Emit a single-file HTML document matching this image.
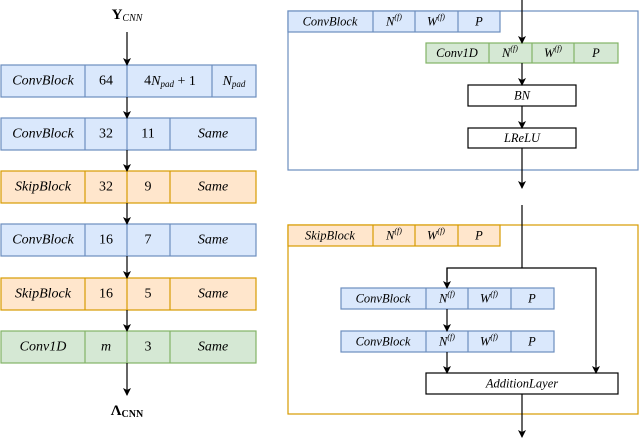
<!DOCTYPE html>
<html><head><meta charset="utf-8"><style>
html,body{margin:0;padding:0;background:#fff}
svg{display:block}
svg text{font-family:"Liberation Serif","DejaVu Serif",serif;font-size:14px;text-anchor:middle;dominant-baseline:central;fill:#000}
svg .i{font-style:italic}
svg .s{font-size:12.5px}
</style></head><body>
<svg width="640" height="438" viewBox="0 0 640 438">
<defs><marker id="a" markerWidth="8" markerHeight="8" refX="7" refY="4" orient="auto" markerUnits="userSpaceOnUse"><path d="M0,0 L8,4 L0,8 L2,4 z" fill="#000"/></marker></defs>
<g stroke-width="1.2">
<g fill="#dae8fc" stroke="#6c8ebf">
<rect x="1" y="65" width="255" height="32"/><line x1="85" y1="65" x2="85" y2="97"/><line x1="127" y1="65" x2="127" y2="97"/><line x1="212" y1="65" x2="212" y2="97"/>
<rect x="1" y="118" width="255" height="32"/><line x1="85" y1="118" x2="85" y2="150"/><line x1="127" y1="118" x2="127" y2="150"/><line x1="170" y1="118" x2="170" y2="150"/>
<rect x="1" y="224" width="255" height="32"/><line x1="85" y1="224" x2="85" y2="256"/><line x1="127" y1="224" x2="127" y2="256"/><line x1="170" y1="224" x2="170" y2="256"/>
</g>
<g fill="#ffe6cc" stroke="#d79b00">
<rect x="1" y="171" width="255" height="32"/><line x1="85" y1="171" x2="85" y2="203"/><line x1="127" y1="171" x2="127" y2="203"/><line x1="170" y1="171" x2="170" y2="203"/>
<rect x="1" y="278" width="255" height="32"/><line x1="85" y1="278" x2="85" y2="310"/><line x1="127" y1="278" x2="127" y2="310"/><line x1="170" y1="278" x2="170" y2="310"/>
</g>
<g fill="#d5e8d4" stroke="#82b366">
<rect x="1" y="331" width="255" height="32"/><line x1="85" y1="331" x2="85" y2="363"/><line x1="127" y1="331" x2="127" y2="363"/><line x1="170" y1="331" x2="170" y2="363"/>
</g>
<g stroke="#000" fill="none">
<line x1="127" y1="32" x2="127" y2="65" marker-end="url(#a)"/>
<line x1="127" y1="97" x2="127" y2="118" marker-end="url(#a)"/>
<line x1="127" y1="150" x2="127" y2="171" marker-end="url(#a)"/>
<line x1="127" y1="203" x2="127" y2="224" marker-end="url(#a)"/>
<line x1="127" y1="256" x2="127" y2="278" marker-end="url(#a)"/>
<line x1="127" y1="310" x2="127" y2="331" marker-end="url(#a)"/>
<line x1="127" y1="363" x2="127" y2="395" marker-end="url(#a)"/>
</g>
<rect x="288" y="11" width="350" height="159" fill="none" stroke="#6c8ebf"/>
<g fill="#dae8fc" stroke="#6c8ebf">
<rect x="288" y="11" width="212" height="21"/><line x1="373" y1="11" x2="373" y2="32"/><line x1="415" y1="11" x2="415" y2="32"/><line x1="458" y1="11" x2="458" y2="32"/>
</g>
<g fill="#d5e8d4" stroke="#82b366">
<rect x="426" y="43" width="192" height="20"/><line x1="489" y1="43" x2="489" y2="63"/><line x1="532" y1="43" x2="532" y2="63"/><line x1="574" y1="43" x2="574" y2="63"/>
</g>
<rect x="468" y="85" width="108" height="21" fill="#fff" stroke="#000"/>
<rect x="468" y="128" width="108" height="20" fill="#fff" stroke="#000"/>
<g stroke="#000" fill="none">
<line x1="522" y1="0" x2="522" y2="43" marker-end="url(#a)"/>
<line x1="522" y1="63" x2="522" y2="85" marker-end="url(#a)"/>
<line x1="522" y1="106" x2="522" y2="128" marker-end="url(#a)"/>
<line x1="522" y1="148" x2="522" y2="188" marker-end="url(#a)"/>
</g>
<rect x="288" y="225" width="350" height="189" fill="none" stroke="#d79b00"/>
<g fill="#ffe6cc" stroke="#d79b00">
<rect x="288" y="225" width="212" height="21"/><line x1="373" y1="225" x2="373" y2="246"/><line x1="415" y1="225" x2="415" y2="246"/><line x1="458" y1="225" x2="458" y2="246"/>
</g>
<g fill="#dae8fc" stroke="#6c8ebf">
<rect x="341" y="288" width="213" height="21"/><line x1="426" y1="288" x2="426" y2="309"/><line x1="468" y1="288" x2="468" y2="309"/><line x1="511" y1="288" x2="511" y2="309"/>
<rect x="341" y="331" width="213" height="21"/><line x1="426" y1="331" x2="426" y2="352"/><line x1="468" y1="331" x2="468" y2="352"/><line x1="511" y1="331" x2="511" y2="352"/>
</g>
<rect x="426" y="373" width="192" height="21" fill="#fff" stroke="#000"/>
<g stroke="#000" fill="none">
<line x1="522" y1="205" x2="522" y2="268"/>
<polyline points="447,280 447,268 596,268 596,365"/>
<line x1="447" y1="268" x2="447" y2="288" marker-end="url(#a)"/>
<line x1="596" y1="360" x2="596" y2="373" marker-end="url(#a)"/>
<line x1="447" y1="309" x2="447" y2="331" marker-end="url(#a)"/>
<line x1="447" y1="352" x2="447" y2="373" marker-end="url(#a)"/>
<line x1="522" y1="394" x2="522" y2="437" marker-end="url(#a)"/>
</g>
</g>
<text x="127" y="15" font-weight="bold" style="font-size:15px">Y<tspan class="i" font-weight="normal" style="font-size:10px" dy="3">CNN</tspan></text>
<text x="127" y="411" font-weight="bold" style="font-size:15px">Λ<tspan style="font-size:10px" dy="3">CNN</tspan></text>
<text class="i" x="43" y="81">ConvBlock</text><text x="106" y="81">64</text><text x="170" y="81">4<tspan class="i">N</tspan><tspan class="i" style="font-size:9px" dy="3">pad</tspan><tspan dy="-3"> + 1</tspan></text><text x="234" y="81"><tspan class="i">N</tspan><tspan class="i" style="font-size:9px" dy="3">pad</tspan></text>
<text class="i" x="43" y="134">ConvBlock</text><text x="106" y="134">32</text><text x="148" y="134">11</text><text class="i" x="213" y="134">Same</text>
<text class="i" x="43" y="187">SkipBlock</text><text x="106" y="187">32</text><text x="148" y="187">9</text><text class="i" x="213" y="187">Same</text>
<text class="i" x="43" y="240">ConvBlock</text><text x="106" y="240">16</text><text x="148" y="240">7</text><text class="i" x="213" y="240">Same</text>
<text class="i" x="43" y="294">SkipBlock</text><text x="106" y="294">16</text><text x="148" y="294">5</text><text class="i" x="213" y="294">Same</text>
<text class="i" x="43" y="347">Conv1D</text><text class="i" x="106" y="347">m</text><text x="148" y="347">3</text><text class="i" x="213" y="347">Same</text>
<text class="i s" x="330" y="21.5">ConvBlock</text><text class="i s" x="394" y="21.5">N<tspan style="font-size:8px" dy="-5">(f)</tspan></text><text class="i s" x="436" y="21.5">W<tspan style="font-size:8px" dy="-5">(f)</tspan></text><text class="i s" x="479" y="21.5">P</text>
<text class="i s" x="457" y="53">Conv1D</text><text class="i s" x="510" y="53">N<tspan style="font-size:8px" dy="-5">(f)</tspan></text><text class="i s" x="553" y="53">W<tspan style="font-size:8px" dy="-5">(f)</tspan></text><text class="i s" x="596" y="53">P</text>
<text class="i s" x="522" y="95.5">BN</text>
<text class="i s" x="522" y="138">LReLU</text>
<text class="i s" x="330" y="235.5">SkipBlock</text><text class="i s" x="394" y="235.5">N<tspan style="font-size:8px" dy="-5">(f)</tspan></text><text class="i s" x="436" y="235.5">W<tspan style="font-size:8px" dy="-5">(f)</tspan></text><text class="i s" x="479" y="235.5">P</text>
<text class="i s" x="383" y="298.5">ConvBlock</text><text class="i s" x="447" y="298.5">N<tspan style="font-size:8px" dy="-5">(f)</tspan></text><text class="i s" x="489" y="298.5">W<tspan style="font-size:8px" dy="-5">(f)</tspan></text><text class="i s" x="532" y="298.5">P</text>
<text class="i s" x="383" y="341.5">ConvBlock</text><text class="i s" x="447" y="341.5">N<tspan style="font-size:8px" dy="-5">(f)</tspan></text><text class="i s" x="489" y="341.5">W<tspan style="font-size:8px" dy="-5">(f)</tspan></text><text class="i s" x="532" y="341.5">P</text>
<text class="i s" x="522" y="383.5">AdditionLayer</text>
</svg>
</body></html>
